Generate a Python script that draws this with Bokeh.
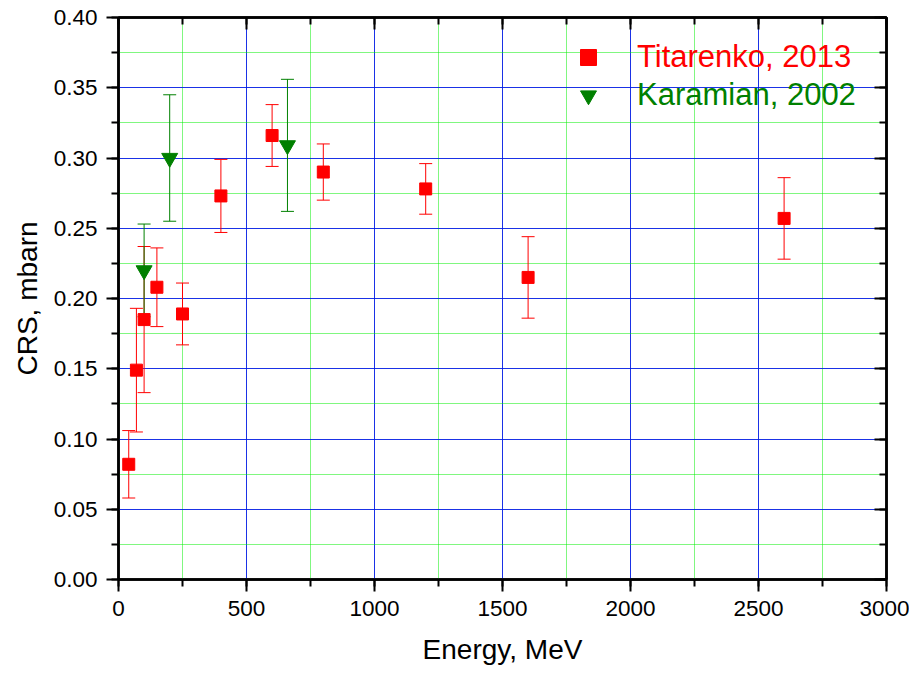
from bokeh.plotting import figure
from bokeh.models import (ColumnDataSource, Whisker, LinearAxis, SingleIntervalTicker,
                          Range1d, Legend, LegendItem, TeeHead, CustomJSTickFormatter)
from bokeh.embed import file_html
from bokeh.resources import INLINE

# ---- data ----
tit_energy = [40, 70, 100, 150, 250, 400, 600, 800, 1200, 1600, 2600]
tit_crs = [0.082, 0.149, 0.185, 0.208, 0.189, 0.273, 0.316, 0.290, 0.278, 0.215, 0.257]
tit_err = [0.024, 0.044, 0.052, 0.028, 0.022, 0.026, 0.022, 0.020, 0.018, 0.029, 0.029]

kar_energy = [100, 200, 660]
kar_crs = [0.220, 0.300, 0.309]
kar_err = [0.033, 0.045, 0.047]

tit_label = "Titarenko, 2013"
kar_label = "Karamian, 2002"
x_title = "Energy, MeV"
y_title = "CRS, mbarn"

RED = "#ff0000"
GREEN = "#008000"
FONT = "Liberation Sans"

tit_src = ColumnDataSource(dict(
    x=tit_energy, y=tit_crs,
    lower=[v - e for v, e in zip(tit_crs, tit_err)],
    upper=[v + e for v, e in zip(tit_crs, tit_err)]))
kar_src = ColumnDataSource(dict(
    x=kar_energy, y=kar_crs,
    lower=[v - e for v, e in zip(kar_crs, kar_err)],
    upper=[v + e for v, e in zip(kar_crs, kar_err)]))

p = figure(width=909, height=667, output_backend="svg", toolbar_location=None,
           x_range=Range1d(0, 3000), y_range=Range1d(0, 0.40),
           min_border_left=118, min_border_right=23, min_border_top=17, min_border_bottom=85,
           x_axis_label=x_title, y_axis_label=y_title)
p.background_fill_color = "white"
p.border_fill_color = "white"
p.outline_line_color = "black"
p.outline_line_width = 2.5

xt = SingleIntervalTicker(interval=500, num_minor_ticks=2)
yt = SingleIntervalTicker(interval=0.05, num_minor_ticks=2)
p.xaxis.ticker = xt
p.yaxis.ticker = yt
p.yaxis.formatter = CustomJSTickFormatter(code="return tick.toFixed(2);")

for ax in (p.xaxis[0], p.yaxis[0]):
    ax.axis_line_width = 2.5
    ax.major_tick_line_width = 2
    ax.minor_tick_line_width = 2
    ax.major_tick_out = 12
    ax.major_tick_in = 0
    ax.minor_tick_out = 7
    ax.minor_tick_in = 0
    ax.major_label_text_font = FONT
    ax.major_label_text_font_size = "22.5px"
    ax.major_label_text_color = "black"
    ax.axis_label_text_font = FONT
    ax.axis_label_text_font_size = "28px"
    ax.axis_label_text_font_style = "normal"
    ax.axis_label_text_color = "black"
p.xaxis.major_label_standoff = 9
p.yaxis.major_label_standoff = 9
p.xaxis.axis_label_standoff = 15
p.yaxis.axis_label_standoff = 8

blank = CustomJSTickFormatter(code="return '';")
top = LinearAxis(ticker=SingleIntervalTicker(interval=500, num_minor_ticks=2), formatter=blank)
right = LinearAxis(ticker=SingleIntervalTicker(interval=0.05, num_minor_ticks=2), formatter=blank)
for ax in (top, right):
    ax.axis_line_width = 2.5
    ax.major_tick_line_width = 2
    ax.minor_tick_line_width = 2
    ax.major_tick_out = 0
    ax.major_tick_in = 12
    ax.minor_tick_out = 0
    ax.minor_tick_in = 7
    ax.major_label_standoff = 0
    ax.major_label_text_font_size = "1px"
p.add_layout(top, "above")
p.add_layout(right, "right")

for g in (p.xgrid[0], p.ygrid[0]):
    g.grid_line_color = "#0000ff"
    g.grid_line_width = 1
    g.grid_line_alpha = 0.8
    g.minor_grid_line_color = "#00ee00"
    g.minor_grid_line_width = 1
    g.minor_grid_line_dash = "1 1"

p.add_layout(Whisker(source=tit_src, base="x", upper="upper", lower="lower",
                     line_color=RED, line_width=1,
                     upper_head=TeeHead(size=13, line_color=RED, line_width=1),
                     lower_head=TeeHead(size=13, line_color=RED, line_width=1)))
p.add_layout(Whisker(source=kar_src, base="x", upper="upper", lower="lower",
                     line_color=GREEN, line_width=1,
                     upper_head=TeeHead(size=13, line_color=GREEN, line_width=1),
                     lower_head=TeeHead(size=13, line_color=GREEN, line_width=1)))

r_t = p.scatter("x", "y", source=tit_src, marker="square", size=12,
                fill_color=RED, line_color=RED)
r_k = p.scatter("x", "y", source=kar_src, marker="inverted_triangle", size=16,
                fill_color=GREEN, line_color=GREEN)

def make_legend(item_label, rend, color, loc):
    return Legend(items=[LegendItem(label=item_label, renderers=[rend])],
                  location=loc, border_line_color=None, background_fill_alpha=0,
                  padding=0, margin=0, spacing=0,
                  glyph_width=40, glyph_height=40, label_height=40,
                  label_standoff=29, label_text_font=FONT,
                  label_text_font_size="31px", label_text_color=color)

p.add_layout(make_legend(tit_label, r_t, RED, (450, 502)))
p.add_layout(make_legend(kar_label, r_k, GREEN, (450, 464)))

open("out.html", "w").write(file_html(p, INLINE))
